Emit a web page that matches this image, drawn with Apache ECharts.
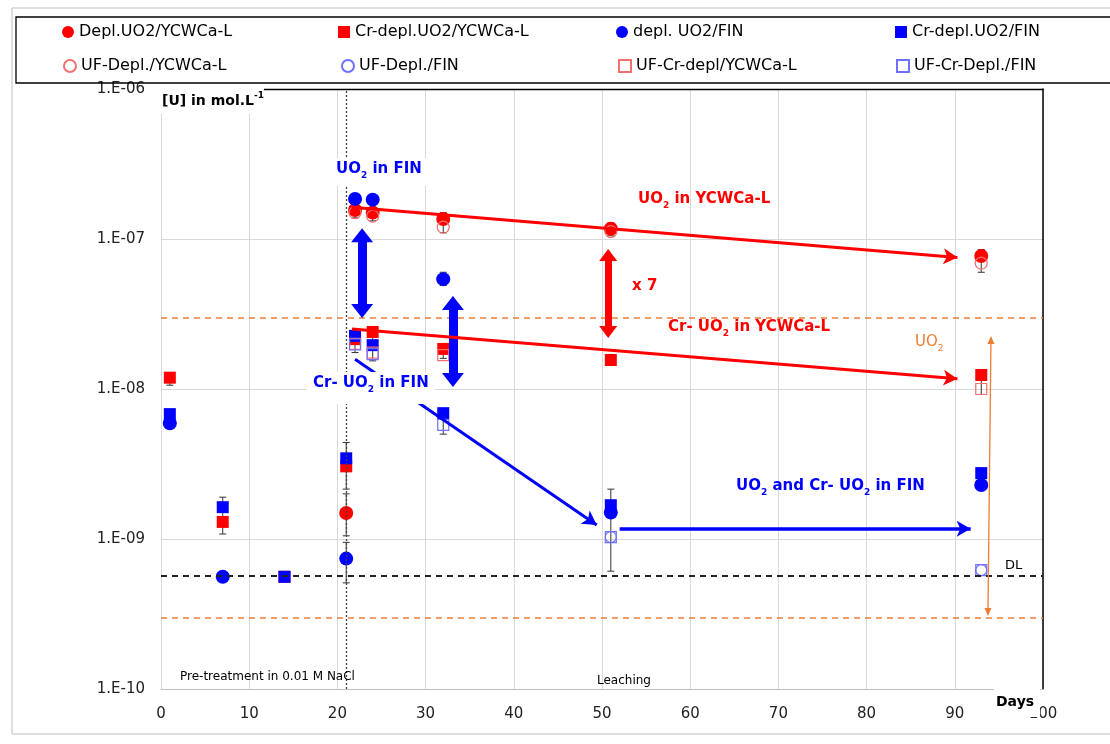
<!DOCTYPE html>
<html>
<head>
<meta charset="utf-8">
<script src="https://cdn.jsdelivr.net/npm/echarts@6/dist/echarts.min.js"></script>
<style>
  html, body { margin: 0; padding: 0; background: #fff; }
  #chart { width: 1110px; height: 744px; }
</style>
</head>
<body>
<div id="chart"></div>
<script>
// Uranium concentration [U] (mol/L) versus time (days), log scale
const FONT = 'DejaVu Sans';

const seriesNames = [
  'Depl.UO2/YCWCa-L', 'Cr-depl.UO2/YCWCa-L', 'depl. UO2/FIN', 'Cr-depl.UO2/FIN',
  'UF-Depl./YCWCa-L', 'UF-Depl./FIN', 'UF-Cr-depl/YCWCa-L', 'UF-Cr-Depl./FIN'
];

// [day, concentration]
const deplYCWCa = [[21, 1.49e-9], [22, 1.56e-7], [24, 1.5e-7], [32, 1.36e-7], [51, 1.17e-7], [93, 7.7e-8]];
const crDeplYCWCa = [[1, 1.19e-8], [7, 1.30e-9], [14, 5.6e-10], [21, 3.05e-9], [22, 2.15e-8], [24, 2.4e-8], [32, 1.85e-8], [51, 1.56e-8], [93, 1.24e-8]];
const deplFIN = [[1, 5.9e-9], [7, 5.6e-10], [21, 7.4e-10], [22, 1.85e-7], [24, 1.83e-7], [32, 5.4e-8], [51, 1.5e-9], [93, 2.29e-9]];
const crDeplFIN = [[1, 6.8e-9], [7, 1.63e-9], [14, 5.6e-10], [21, 3.45e-9], [22, 2.26e-8], [24, 1.96e-8], [32, 6.9e-9], [51, 1.68e-9], [93, 2.75e-9]];
const ufDeplYCWCa = [[22, 1.5e-7], [24, 1.42e-7], [32, 1.2e-7], [51, 1.12e-7], [93, 6.9e-8]];
const ufDeplFIN = [[51, 1.03e-9], [93, 6.2e-10]];
const ufCrDeplYCWCa = [[22, 2.0e-8], [24, 1.75e-8], [32, 1.68e-8], [93, 1.0e-8]];
const ufCrDeplFIN = [[22, 1.98e-8], [24, 1.71e-8], [32, 5.76e-9], [51, 1.03e-9], [93, 6.2e-10]];

// [day, low, high]
const errorBars = [
  [1, 1.06e-8, 1.28e-8], [1, 6.0e-9, 7.2e-9], [7, 1.08e-9, 1.9e-9],
  [21, 2.15e-9, 4.4e-9], [21, 1.05e-9, 2.0e-9], [21, 5.1e-10, 9.5e-10],
  [22, 1.38e-7, 1.7e-7], [24, 1.32e-7, 1.62e-7], [32, 1.1e-7, 1.5e-7], [32, 4.9e-8, 6.0e-8],
  [22, 1.75e-8, 2.4e-8], [24, 1.54e-8, 2.6e-8], [32, 1.6e-8, 2.0e-8], [32, 5.0e-9, 7.4e-9],
  [51, 1.05e-7, 1.28e-7], [51, 1.45e-8, 1.7e-8], [51, 6.1e-10, 2.15e-9],
  [93, 6.0e-8, 8.5e-8], [93, 9.2e-9, 1.32e-8], [93, 2.15e-9, 2.95e-9]
];

// Reference levels
const detectionLimit = 5.7e-10;
const uo2Band = [3.0e-8, 3.0e-10];
const leachStartDay = 21;

const xTicks = { min: 0, max: 100, interval: 10 };
const yRange = { min: 1e-10, max: 1e-6 };

const RED = '#ff0000', BLUE = '#0000ff', ORANGE = '#ED7D31';

function scatter(name, data, symbol, size, fill, border, bw, z) {
  return {
    name, type: 'scatter', data, symbol, symbolSize: size, z: z,
    itemStyle: { color: fill, borderColor: border, borderWidth: bw, opacity: 1 },
    emphasis: { disabled: true }, animation: false
  };
}

function arrowPair(a, b, color, width, symA, symB, sizeA, sizeB, type) {
  const ls = { color, width, type: type || 'solid' };
  return [
    { coord: a, symbol: symA, symbolSize: sizeA, lineStyle: ls },
    { coord: b, symbol: symB, symbolSize: sizeB, lineStyle: ls }
  ];
}

const guideLines = [
  arrowPair([leachStartDay, yRange.min], [leachStartDay, yRange.max], '#404040', 1.3, 'none', 'none', 1, 1, [2, 2]),
  arrowPair([xTicks.min, detectionLimit], [xTicks.max, detectionLimit], '#222', 2, 'none', 'none', 1, 1, [6, 5]),
  arrowPair([xTicks.min, uo2Band[0]], [xTicks.max, uo2Band[0]], ORANGE, 1.6, 'none', 'none', 1, 1, [6, 5]),
  arrowPair([xTicks.min, uo2Band[1]], [xTicks.max, uo2Band[1]], ORANGE, 1.6, 'none', 'none', 1, 1, [6, 5])
];

const arrows = [
  arrowPair([22.8, 1.06e-7], [22.8, 3.31e-8], BLUE, 9, 'triangle', 'triangle', [22, 14], [22, 14]),
  arrowPair([33.1, 3.74e-8], [33.1, 1.15e-8], BLUE, 9, 'triangle', 'triangle', [22, 14], [22, 14]),
  arrowPair([50.7, 7.82e-8], [50.7, 2.4e-8], RED, 7, 'triangle', 'triangle', [18, 12], [18, 12]),
  arrowPair([21.65, 1.63e-7], [90.3, 7.53e-8], RED, 3, 'none', 'arrow', 1, [12, 14]),
  arrowPair([21.65, 2.51e-8], [90.3, 1.17e-8], RED, 3, 'none', 'arrow', 1, [12, 14]),
  arrowPair([22.0, 1.58e-8], [49.4, 1.24e-9], BLUE, 3, 'none', 'arrow', 1, [12, 14]),
  arrowPair([52.0, 1.17e-9], [91.8, 1.17e-9], BLUE, 3.5, 'none', 'arrow', 1, [12, 14]),
  arrowPair([93.76, 3.26e-10], [94.1, 2.12e-8], ORANGE, 1.3, 'triangle', 'triangle', [7, 8], [7, 8])
];

function boldRich(color, size) {
  return {
    m: { fontSize: size, fontWeight: 'bold', fontFamily: FONT, fill: color, lineHeight: 18, verticalAlign: 'top' },
    s: { fontSize: Math.round(size * 0.62), fontWeight: 'bold', fontFamily: FONT, fill: color, lineHeight: 12, padding: [9, 0, 0, 0], verticalAlign: 'top' }
  };
}
function plainRich(color, size) {
  return {
    m: { fontSize: size, fontFamily: FONT, fill: color, lineHeight: 18, verticalAlign: 'top' },
    s: { fontSize: Math.round(size * 0.62), fontFamily: FONT, fill: color, lineHeight: 12, padding: [9, 0, 0, 0], verticalAlign: 'top' }
  };
}

function richText(x, y, text, rich, extra) {
  return {
    type: 'text', z: 50, silent: true,
    style: Object.assign({ x, y, text, rich, align: 'left', verticalAlign: 'top' }, extra || {})
  };
}
function plainText(x, y, text, size, color, weight, extra) {
  return {
    type: 'text', z: 50, silent: true,
    style: Object.assign({ x, y, text, fontSize: size, fontFamily: FONT, fontWeight: weight || 'normal', fill: color, align: 'left', verticalAlign: 'middle' }, extra || {})
  };
}

const annotations = [
  // chart frame and legend box
  { type: 'rect', z: 0, silent: true, shape: { x: 12, y: 8, width: 1120, height: 726 }, style: { fill: 'none', stroke: '#bfbfbf', lineWidth: 1 } },
  { type: 'rect', z: 60, silent: true, shape: { x: 16, y: 17, width: 1110, height: 66 }, style: { fill: 'none', stroke: '#000', lineWidth: 1.3 } },
  richText(160, 88, '{b|[U] in mol.L}{p|-1}', {
    b: { fontSize: 14, fontWeight: 'bold', fontFamily: FONT, fill: '#000', lineHeight: 18, padding: [3, 0, 0, 0], verticalAlign: 'bottom' },
    p: { fontSize: 9, fontWeight: 'bold', fontFamily: FONT, fill: '#000', lineHeight: 12, padding: [0, 0, 8, 0], verticalAlign: 'bottom' }
  }, { backgroundColor: '#fff', padding: [2, 0, 6, 2] }),
  richText(330, 158, '{m|UO}{s|2}{m| in FIN}', boldRich(BLUE, 15), { backgroundColor: '#fff', padding: [4, 6, 6, 6] }),
  richText(307, 372, '{m|Cr- UO}{s|2}{m| in FIN}', boldRich(BLUE, 15), { backgroundColor: '#fff', padding: [4, 6, 10, 6] }),
  richText(638, 192, '{m|UO}{s|2}{m| in YCWCa-L}', boldRich(RED, 15)),
  richText(668, 320, '{m|Cr- UO}{s|2}{m| in YCWCa-L}', boldRich(RED, 15)),
  richText(736, 479, '{m|UO}{s|2}{m| and Cr- UO}{s|2}{m| in FIN}', boldRich(BLUE, 15)),
  richText(915, 335, '{m|UO}{s|2}', plainRich(ORANGE, 15)),
  plainText(632, 286, 'x 7', 15, RED, 'bold'),
  plainText(1005, 566, 'DL', 13, '#000'),
  plainText(180, 677, 'Pre-treatment in 0.01 M NaCl', 12, '#000'),
  plainText(597, 681, 'Leaching', 12, '#000'),
  plainText(994, 702, 'Days', 14, '#000', 'bold', { backgroundColor: '#fff', padding: [14, 6, 2, 2] })
];

const legendPos = [[62, 24], [338, 24], [616, 24], [895, 24], [63, 58], [341, 58], [618, 58], [896, 58]];

const chart = echarts.init(document.getElementById('chart'), null, { renderer: 'canvas' });
chart.setOption({
  animation: false,
  backgroundColor: '#fff',
  textStyle: { fontFamily: FONT },
  grid: { left: 161, right: 67, top: 89, bottom: 55, outerBoundsMode: 'none' },
  legend: seriesNames.map((n, i) => ({
    data: [n], left: legendPos[i][0], top: legendPos[i][1], padding: 0,
    itemWidth: 12, itemHeight: 12, selectedMode: false,
    textStyle: { fontSize: 16, fontFamily: FONT, color: '#000' }
  })),
  xAxis: [{
    type: 'value', min: xTicks.min, max: xTicks.max, interval: xTicks.interval,
    axisLine: { show: true, lineStyle: { color: '#bfbfbf', width: 1 } },
    axisTick: { show: false },
    axisLabel: { fontSize: 15, color: '#222', fontFamily: FONT, margin: 18 },
    splitLine: { show: true, lineStyle: { color: '#d9d9d9', width: 1 } }
  }, {
    type: 'value', position: 'top', min: xTicks.min, max: xTicks.max,
    axisLine: { show: true, onZero: false, lineStyle: { color: '#000', width: 1.3 } },
    axisTick: { show: false }, axisLabel: { show: false }, splitLine: { show: false }
  }],
  yAxis: [{
    type: 'log', logBase: 10, min: yRange.min, max: yRange.max,
    axisLine: { show: true, onZero: false, lineStyle: { color: '#d9d9d9', width: 1 } },
    axisTick: { show: false },
    minorTick: { show: false },
    axisLabel: {
      fontSize: 15, color: '#222', fontFamily: FONT, margin: 16,
      formatter: v => {
        const e = Math.round(Math.log10(v));
        return '1.E' + (e < 0 ? '-' : '+') + String(Math.abs(e)).padStart(2, '0');
      }
    },
    splitLine: { show: true, lineStyle: { color: '#d9d9d9', width: 1 } }
  }, {
    type: 'value', position: 'right', min: 0, max: 1,
    axisLine: { show: true, onZero: false, lineStyle: { color: '#000', width: 1.5 } },
    axisTick: { show: false }, axisLabel: { show: false }, splitLine: { show: false }
  }],
  graphic: annotations,
  series: [
    {
      name: 'errorBars', type: 'custom', data: errorBars, z: 1, animation: false, silent: true,
      encode: { x: 0, y: [1, 2] },
      renderItem(params, api) {
        const x = api.value(0);
        const lo = api.coord([x, api.value(1)]);
        const hi = api.coord([x, api.value(2)]);
        const w = 3.5;
        const style = { stroke: '#333', lineWidth: 1 };
        return {
          type: 'group', children: [
            { type: 'line', shape: { x1: lo[0], y1: lo[1], x2: hi[0], y2: hi[1] }, style },
            { type: 'line', shape: { x1: lo[0] - w, y1: lo[1], x2: lo[0] + w, y2: lo[1] }, style },
            { type: 'line', shape: { x1: hi[0] - w, y1: hi[1], x2: hi[0] + w, y2: hi[1] }, style }
          ]
        };
      },
      markLine: {
        silent: true, animation: false, symbol: ['none', 'none'], label: { show: false },
        emphasis: { disabled: true },
        data: guideLines.concat(arrows)
      }
    },
    scatter(seriesNames[0], deplYCWCa, 'circle', 14, RED, RED, 0, 3),
    scatter(seriesNames[1], crDeplYCWCa, 'rect', 12, RED, RED, 0, 3),
    scatter(seriesNames[2], deplFIN, 'circle', 14, BLUE, BLUE, 0, 3),
    scatter(seriesNames[3], crDeplFIN, 'rect', 12, BLUE, BLUE, 0, 3),
    scatter(seriesNames[4], ufDeplYCWCa, 'circle', 12, 'rgba(255,255,255,0)', '#f07070', 1.2, 4),
    scatter(seriesNames[5], ufDeplFIN, 'circle', 11, 'rgba(255,255,255,0)', '#7070ff', 1.2, 4),
    scatter(seriesNames[6], ufCrDeplYCWCa, 'rect', 11, 'rgba(255,255,255,0)', '#f07070', 1.2, 4),
    scatter(seriesNames[7], ufCrDeplFIN, 'rect', 11, 'rgba(255,255,255,0)', '#7070ff', 1.2, 4)
  ]
});
</script>
</body>
</html>
